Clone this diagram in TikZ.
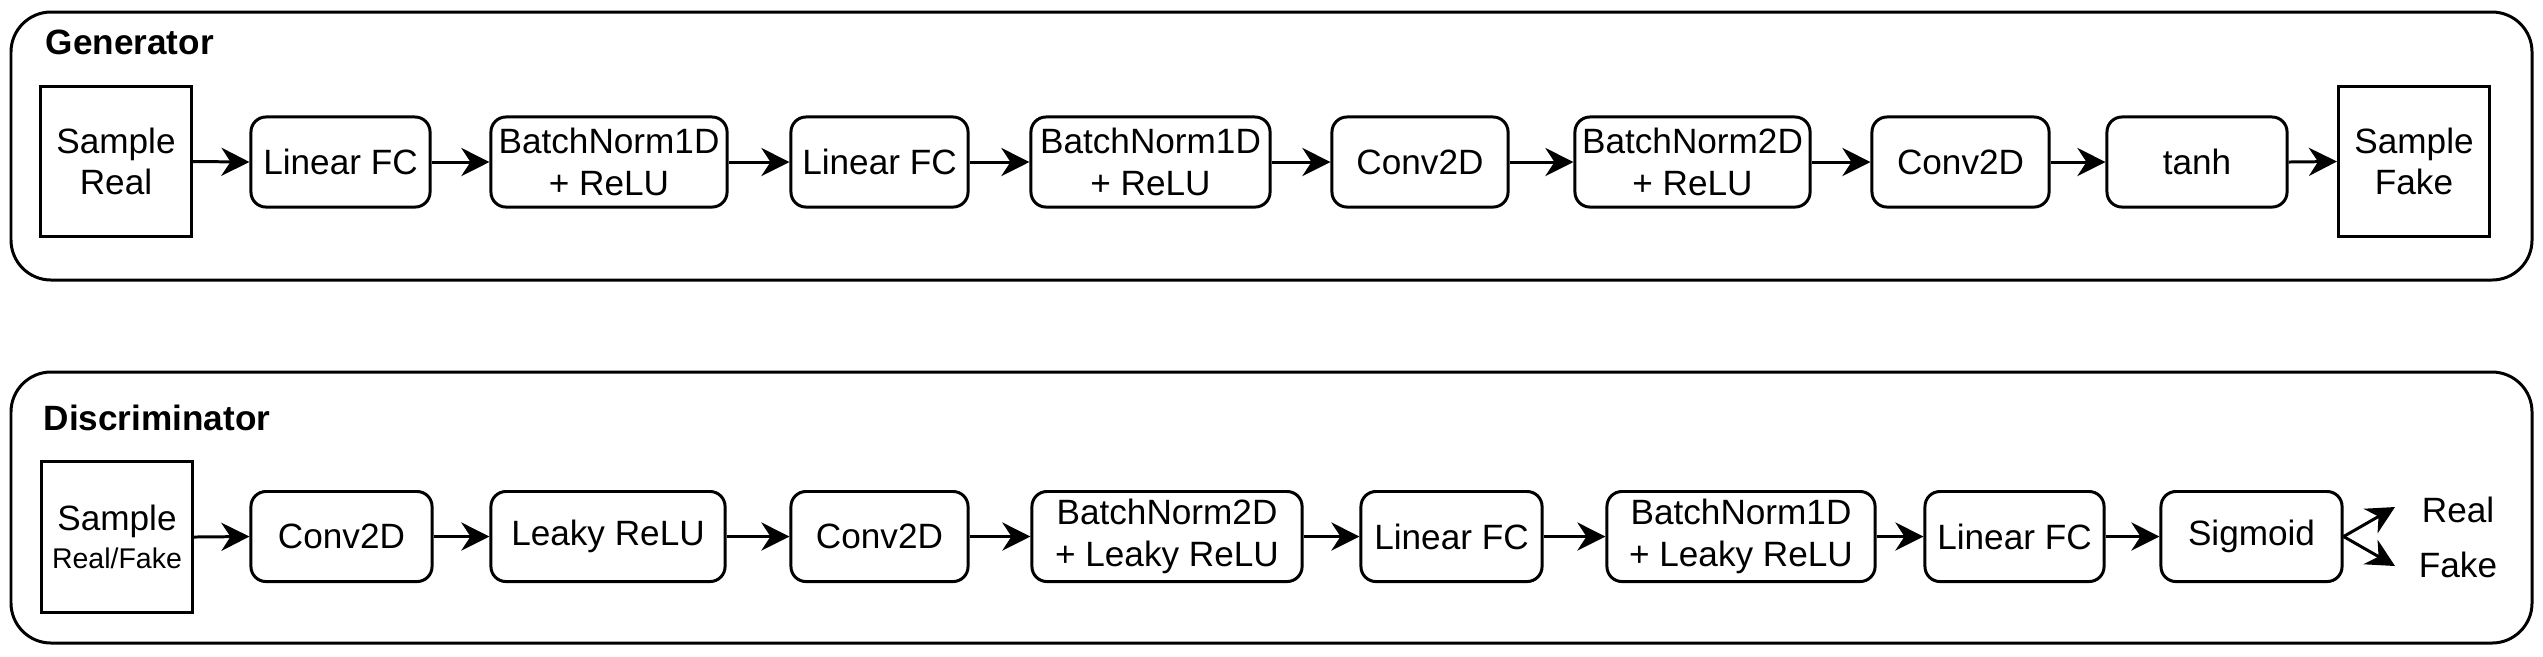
\documentclass[tikz,border=0pt]{standalone}
\usepackage{fontspec}
\setmainfont{Liberation Sans}
\usetikzlibrary{arrows.meta}
\begin{document}
\begin{tikzpicture}[x=0.01cm,y=-0.01cm,
  every node/.style={font=\fontsize{10}{11.8}\selectfont},
  blk/.style={draw,line width=0.85pt,rounded corners=1.5mm,minimum height=0.9cm,align=center,inner sep=0pt},
  sq/.style={draw,line width=0.85pt,minimum width=1.51cm,minimum height=1.5cm,align=center,inner sep=0pt},
  frm/.style={draw,line width=0.85pt,rounded corners=4mm},
  arr/.style={line width=0.85pt,-{Stealth[length=8pt,width=8pt,inset=2.6pt]}},
  ttl/.style={font=\bfseries\fontsize{10}{12}\selectfont,anchor=base west,inner sep=0pt},
  lbl/.style={inner sep=0pt}]
\useasboundingbox (0,0) rectangle (2543,656);
% frames
\draw[frm] (11,12) rectangle (2532,280);
\draw[frm] (11,372) rectangle (2532,643);
\node[ttl] (gt) at (45,54) {Generator};
\node[ttl] (dt) at (43,430) {Discriminator};
% generator
\node[sq] (gs) at (116,161.5) {Sample\\Real};
\node[blk,minimum width=1.79cm] (g1) at (340.5,162) {Linear FC};
\node[blk,minimum width=2.36cm] (g2) at (609,162) {BatchNorm1D\\+ ReLU};
\node[blk,minimum width=1.77cm] (g3) at (879.5,162) {Linear FC};
\node[blk,minimum width=2.39cm] (g4) at (1150.5,162) {BatchNorm1D\\+ ReLU};
\node[blk,minimum width=1.76cm] (g5) at (1420,162) {Conv2D};
\node[blk,minimum width=2.35cm] (g6) at (1692.5,162) {BatchNorm2D\\+ ReLU};
\node[blk,minimum width=1.77cm] (g7) at (1960.5,162) {Conv2D};
\node[blk,minimum width=1.80cm] (g8) at (2197,162) {tanh};
\node[sq] (gf) at (2414,161.5) {Sample\\Fake};
\foreach \a/\b in {gs/g1,g1/g2,g2/g3,g3/g4,g4/g5,g5/g6,g6/g7,g7/g8,g8/gf}
  \draw[arr] (\a.east) -- (\b.west);
% discriminator
\node[sq] (ds) at (117,537) {Sample\\[-1pt]{\fontsize{8.1}{9.7}\selectfont Real/Fake}};
\node[blk,minimum width=1.81cm] (d1) at (341.5,536.5) {Conv2D};
\node[blk,minimum width=2.34cm] (d2) at (608,536.5) {Leaky ReLU};
\node[blk,minimum width=1.77cm] (d3) at (879.5,536.5) {Conv2D};
\node[blk,minimum width=2.70cm] (d4) at (1167,536.5) {BatchNorm2D\\+ Leaky ReLU};
\node[blk,minimum width=1.81cm] (d5) at (1451.5,536.5) {Linear FC};
\node[blk,minimum width=2.68cm] (d6) at (1741,536.5) {BatchNorm1D\\+ Leaky ReLU};
\node[blk,minimum width=1.79cm] (d7) at (2014.5,536.5) {Linear FC};
\node[blk,minimum width=1.81cm] (d8) at (2251.5,536.5) {Sigmoid};
\foreach \a/\b in {ds/d1,d1/d2,d2/d3,d3/d4,d4/d5,d5/d6,d6/d7,d7/d8}
  \draw[arr] (\a.east) -- (\b.west);
\node[lbl] (real) at (2458,510) {Real};
\node[lbl] (fake) at (2458,565) {Fake};
\coordinate (tr) at (2395,507);
\coordinate (tf) at (2395,566);
\draw[arr] (d8.east) -- (tr);
\draw[arr] (d8.east) -- (tf);
\end{tikzpicture}
\end{document}
